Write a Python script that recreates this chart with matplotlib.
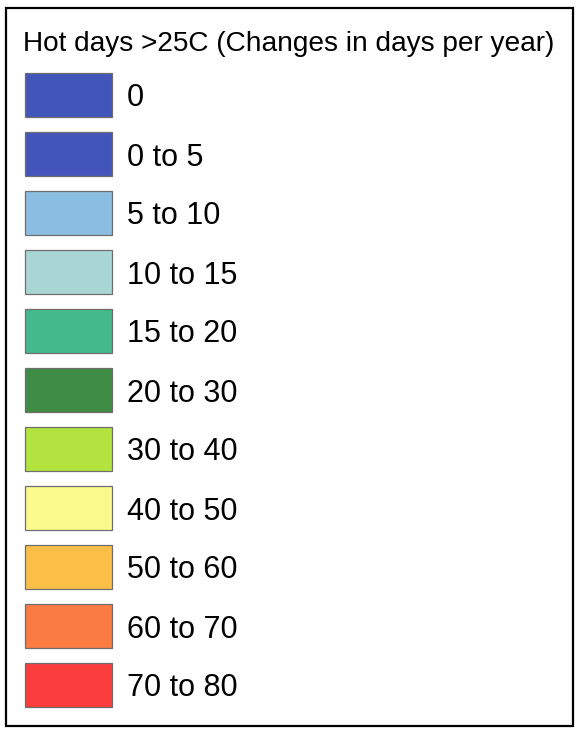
import matplotlib
matplotlib.use("Agg")
import matplotlib.pyplot as plt
from matplotlib.patches import Rectangle

title = "Hot days >25C (Changes in days per year)"
labels = ["0", "0 to 5", "5 to 10", "10 to 15", "15 to 20", "20 to 30",
          "30 to 40", "40 to 50", "50 to 60", "60 to 70", "70 to 80"]
colors = ["#4255BA", "#4255BA", "#8BBDE3", "#A8D6D5", "#44B98B", "#3F8D45",
          "#B2E33F", "#FAFA8C", "#FBBF48", "#FB7C42", "#FB3C3C"]

plt.rcParams['font.family'] = ['Liberation Sans', 'DejaVu Sans']

W, H = 580, 733
fig = plt.figure(figsize=(W / 100, H / 100), dpi=100)
ax = fig.add_axes([0, 0, 1, 1])
ax.set_xlim(0, W)
ax.set_ylim(H, 0)
ax.axis("off")

# outer frame
ax.add_patch(Rectangle((6, 8), 567, 718, fill=False, edgecolor="black", linewidth=1.6))

ax.text(23, 51, title, fontsize=20.2, va="baseline", ha="left", color="black")

y0, step = 95, 59
for i, (lab, c) in enumerate(zip(labels, colors)):
    yc = y0 + i * step
    ax.add_patch(Rectangle((24.5, yc - 22), 87, 44, facecolor=c,
                           edgecolor="#6E6E6E", linewidth=0.9))
    ax.text(127, yc + 11.5, lab, fontsize=22, va="baseline", ha="left", color="black")

fig.savefig("out.png", dpi=100)
